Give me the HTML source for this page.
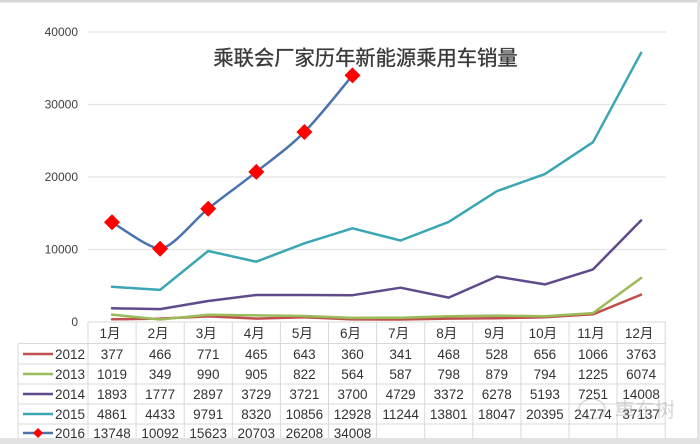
<!DOCTYPE html>
<html><head><meta charset="utf-8"><style>
html,body{margin:0;padding:0;background:#fff;}
svg{display:block;}
text{font-family:"Liberation Sans","Noto Sans CJK SC",sans-serif;}
</style></head><body>
<svg width="700" height="444" viewBox="0 0 700 444" xmlns="http://www.w3.org/2000/svg">
<rect x="0" y="0" width="700" height="444" fill="#fff"/>
<rect x="0" y="0" width="700" height="2.5" fill="#d6d6d6"/>
<rect x="697" y="0" width="3" height="444" fill="#e4e4e4"/>
<rect x="0" y="438" width="700" height="6" fill="#e2e2e2"/>
<!-- gridlines -->
<g stroke="#e3e3e3" stroke-width="1.2">
<line x1="88" y1="32" x2="666" y2="32"/>
<line x1="88" y1="104.5" x2="666" y2="104.5"/>
<line x1="88" y1="177" x2="666" y2="177"/>
<line x1="88" y1="249.5" x2="666" y2="249.5"/>
</g>
<!-- y labels -->
<g font-size="12" fill="#404040" text-anchor="end">
<text x="78" y="36">40000</text>
<text x="78" y="108.5">30000</text>
<text x="78" y="181">20000</text>
<text x="78" y="253.5">10000</text>
<text x="78" y="326">0</text>
</g>
<!-- title -->
<text x="365.5" y="65" font-size="20.3" fill="#3a3a3a" stroke="#3a3a3a" stroke-width="0.35" text-anchor="middle" font-family="'Noto Sans CJK SC',sans-serif">乘联会厂家历年新能源乘用车销量</text>
<!-- series -->
<g fill="none" stroke-width="2.5" stroke-linejoin="round" stroke-linecap="round">
<polyline stroke="#c0504d" points="112,319.3 160.1,318.6 208.2,316.4 256.3,318.6 304.4,317.3 352.5,319.4 400.6,319.5 448.7,318.6 496.8,318.2 544.9,317.2 593,314.3 641.1,294.7"/>
<polyline stroke="#9bbb59" points="112,314.6 160.1,319.5 208.2,314.8 256.3,315.4 304.4,316 352.5,317.9 400.6,317.7 448.7,316.2 496.8,315.6 544.9,316.2 593,313.1 641.1,278"/>
<polyline stroke="#5f4b8b" points="112,308.3 160.1,309.1 208.2,301 256.3,295 304.4,295 352.5,295.2 400.6,287.7 448.7,297.6 496.8,276.5 544.9,284.4 593,269.4 641.1,220.4"/>
<polyline stroke="#3aa7b2" points="112,286.8 160.1,289.9 208.2,251 256.3,261.7 304.4,243.3 352.5,228.3 400.6,240.5 448.7,221.9 496.8,191.2 544.9,174.1 593,142.2 641.1,52.8"/>
<path stroke="#4a73ad" d="M112,222.3 C122,228 148,248 160.1,248.8 C174,247 194,220 208.2,208.7 C224.2,195.9 240.3,184.7 256.3,171.9 C272.3,159.1 288.4,148.1 304.4,132 C320.4,115.9 344.5,84.8 352.5,75.4"/>
</g>
<g fill="#ff0000">
<polygon points="112,214.3 120,222.3 112,230.3 104,222.3"/>
<polygon points="160.1,240.8 168.1,248.8 160.1,256.8 152.1,248.8"/>
<polygon points="208.2,200.7 216.2,208.7 208.2,216.7 200.2,208.7"/>
<polygon points="256.3,163.9 264.3,171.9 256.3,179.9 248.3,171.9"/>
<polygon points="304.4,124 312.4,132 304.4,140 296.4,132"/>
<polygon points="352.5,67.4 360.5,75.4 352.5,83.4 344.5,75.4"/>
</g>
<!-- table grid -->
<g stroke="#d9d9d9" stroke-width="1">
<line x1="88" y1="322" x2="666" y2="322"/>
<line x1="18" y1="343.5" x2="666" y2="343.5"/>
<line x1="18" y1="364" x2="666" y2="364"/>
<line x1="18" y1="384" x2="666" y2="384"/>
<line x1="18" y1="404" x2="666" y2="404"/>
<line x1="18" y1="424" x2="666" y2="424"/>
<line x1="18" y1="343.5" x2="18" y2="438"/>
<line x1="88" y1="322" x2="88" y2="438"/>
<line x1="136.1" y1="322" x2="136.1" y2="438"/>
<line x1="184.2" y1="322" x2="184.2" y2="438"/>
<line x1="232.3" y1="322" x2="232.3" y2="438"/>
<line x1="280.4" y1="322" x2="280.4" y2="438"/>
<line x1="328.5" y1="322" x2="328.5" y2="438"/>
<line x1="376.6" y1="322" x2="376.6" y2="438"/>
<line x1="424.7" y1="322" x2="424.7" y2="438"/>
<line x1="472.8" y1="322" x2="472.8" y2="438"/>
<line x1="520.9" y1="322" x2="520.9" y2="438"/>
<line x1="569" y1="322" x2="569" y2="438"/>
<line x1="617.1" y1="322" x2="617.1" y2="438"/>
<line x1="665.2" y1="322" x2="665.2" y2="438"/>
</g>
<!-- legend keys -->
<g stroke-width="2.5">
<line x1="23" y1="354" x2="53" y2="354" stroke="#c0504d"/>
<line x1="23" y1="374" x2="53" y2="374" stroke="#9bbb59"/>
<line x1="23" y1="394" x2="53" y2="394" stroke="#5f4b8b"/>
<line x1="23" y1="414" x2="53" y2="414" stroke="#3aa7b2"/>
<line x1="23" y1="433" x2="53" y2="433" stroke="#4a73ad"/>
</g>
<polygon points="38,428 43,433 38,438 33,433" fill="#ff0000"/>
<g font-size="13.5" fill="#333" text-anchor="start">
<text x="55" y="359">2012</text>
<text x="55" y="379">2013</text>
<text x="55" y="399">2014</text>
<text x="55" y="419">2015</text>
<text x="55" y="438">2016</text>
</g>
<g font-size="13.5" fill="#333" text-anchor="middle">
<text y="338" font-family="'Liberation Sans','Noto Sans CJK SC',sans-serif"><tspan x="110">1月</tspan><tspan x="158.1">2月</tspan><tspan x="206.2">3月</tspan><tspan x="254.3">4月</tspan><tspan x="302.4">5月</tspan><tspan x="350.5">6月</tspan><tspan x="398.6">7月</tspan><tspan x="446.7">8月</tspan><tspan x="494.8">9月</tspan><tspan x="542.9">10月</tspan><tspan x="591">11月</tspan><tspan x="639.1">12月</tspan></text>
<text y="359"><tspan x="112">377</tspan><tspan x="160.1">466</tspan><tspan x="208.2">771</tspan><tspan x="256.3">465</tspan><tspan x="304.4">643</tspan><tspan x="352.5">360</tspan><tspan x="400.6">341</tspan><tspan x="448.7">468</tspan><tspan x="496.8">528</tspan><tspan x="544.9">656</tspan><tspan x="593">1066</tspan><tspan x="641.1">3763</tspan></text>
<text y="379"><tspan x="112">1019</tspan><tspan x="160.1">349</tspan><tspan x="208.2">990</tspan><tspan x="256.3">905</tspan><tspan x="304.4">822</tspan><tspan x="352.5">564</tspan><tspan x="400.6">587</tspan><tspan x="448.7">798</tspan><tspan x="496.8">879</tspan><tspan x="544.9">794</tspan><tspan x="593">1225</tspan><tspan x="641.1">6074</tspan></text>
<text y="399"><tspan x="112">1893</tspan><tspan x="160.1">1777</tspan><tspan x="208.2">2897</tspan><tspan x="256.3">3729</tspan><tspan x="304.4">3721</tspan><tspan x="352.5">3700</tspan><tspan x="400.6">4729</tspan><tspan x="448.7">3372</tspan><tspan x="496.8">6278</tspan><tspan x="544.9">5193</tspan><tspan x="593">7251</tspan><tspan x="641.1">14008</tspan></text>
<text y="419"><tspan x="112">4861</tspan><tspan x="160.1">4433</tspan><tspan x="208.2">9791</tspan><tspan x="256.3">8320</tspan><tspan x="304.4">10856</tspan><tspan x="352.5">12928</tspan><tspan x="400.6">11244</tspan><tspan x="448.7">13801</tspan><tspan x="496.8">18047</tspan><tspan x="544.9">20395</tspan><tspan x="593">24774</tspan><tspan x="641.1">37137</tspan></text>
<text y="438"><tspan x="112">13748</tspan><tspan x="160.1">10092</tspan><tspan x="208.2">15623</tspan><tspan x="256.3">20703</tspan><tspan x="304.4">26208</tspan><tspan x="352.5">34008</tspan></text>
</g>
<!-- watermark -->
<g opacity="0.4" fill="none" stroke="#888" stroke-width="1.2">
<ellipse cx="592" cy="409" rx="13" ry="10"/>
</g>
<text x="615" y="417" font-size="20" fill="#999" opacity="0.4" font-family="'Noto Sans CJK SC',sans-serif">車东树</text>
</svg>
</body></html>
